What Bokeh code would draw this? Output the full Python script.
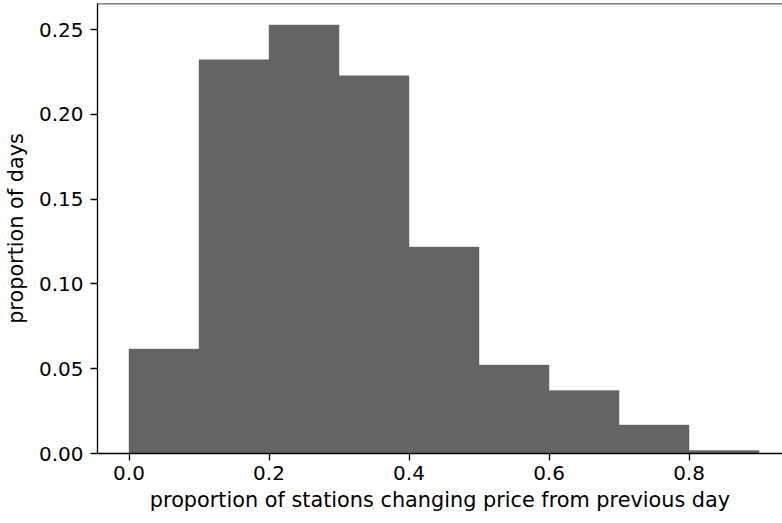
from bokeh.plotting import figure
from bokeh.models import Range1d, FixedTicker, NumeralTickFormatter, Span, ColumnDataSource
from bokeh.embed import file_html
from bokeh.resources import INLINE

# data
bin_edges = [0.0, 0.1, 0.2, 0.3, 0.4, 0.5, 0.6, 0.7, 0.8, 0.9]
proportions = [0.0616, 0.2322, 0.2528, 0.2228, 0.1218, 0.0522, 0.0372, 0.0168, 0.0018]
x_ticks = [0.0, 0.2, 0.4, 0.6, 0.8]
y_ticks = [0.00, 0.05, 0.10, 0.15, 0.20, 0.25]
x_label = "proportion of stations changing price from previous day"
y_label = "proportion of days"

FONT = "DejaVu Sans"

src = ColumnDataSource(dict(left=bin_edges[:-1], right=bin_edges[1:], top=proportions,
                            bottom=[0] * len(proportions)))

span_x = bin_edges[-1] - bin_edges[0]
x_start = bin_edges[0] - 0.05 * span_x
y_end = max(proportions) * 1.05

p = figure(frame_width=685, frame_height=450, output_backend="svg", toolbar_location=None,
           x_range=Range1d(x_start, x_start + 0.9785), y_range=Range1d(0, y_end))
p.min_border_left = 97
p.min_border_right = 0
p.min_border_top = 3
p.min_border_bottom = 70
p.background_fill_color = "white"
p.border_fill_color = "white"
p.outline_line_color = None
p.grid.visible = False

p.quad(left="left", right="right", top="top", bottom="bottom", source=src,
       fill_color="#646464", line_color="#646464", line_width=0.4)

p.add_layout(Span(location=y_end, dimension="width", line_color="black", line_width=1.3))

for ax in (p.xaxis[0], p.yaxis[0]):
    ax.axis_line_color = "black"
    ax.axis_line_width = 1.3
    ax.major_tick_line_width = 1.3
    ax.major_tick_in = 0
    ax.major_tick_out = 7
    ax.minor_tick_line_color = None
    ax.major_label_text_font = FONT
    ax.major_label_text_font_size = "20px"
    ax.major_label_text_color = "black"
    ax.axis_label_text_font = FONT
    ax.axis_label_text_font_size = "20.8px"
    ax.axis_label_text_font_style = "normal"
    ax.axis_label_text_color = "black"

p.xaxis[0].ticker = FixedTicker(ticks=x_ticks)
p.yaxis[0].ticker = FixedTicker(ticks=y_ticks)
p.xaxis[0].formatter = NumeralTickFormatter(format="0.0")
p.yaxis[0].formatter = NumeralTickFormatter(format="0.00")
p.xaxis[0].axis_label = x_label
p.yaxis[0].axis_label = y_label
p.xaxis[0].major_label_standoff = 5
p.yaxis[0].major_label_standoff = 7
p.xaxis[0].axis_label_standoff = 5
p.yaxis[0].axis_label_standoff = 8

open("out.html", "w").write(file_html(p, INLINE))
